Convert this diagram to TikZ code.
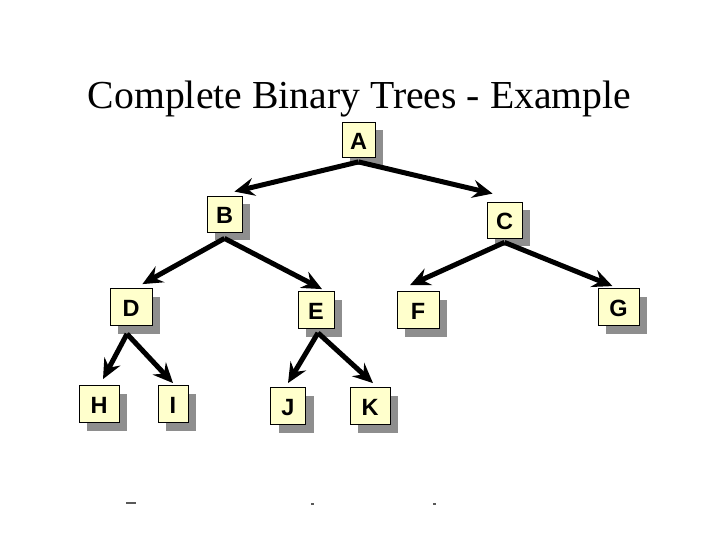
\documentclass[tikz,border=0pt]{standalone}
\usepackage{fontspec}
\setmainfont{Liberation Serif}
\newfontfamily\boxfont{Liberation Sans}
\usetikzlibrary{arrows.meta,shadows}
\definecolor{boxfill}{HTML}{FFFFCC}
\definecolor{shadowgray}{HTML}{8E8E8E}
\tikzset{
  treebox/.style={draw=black, line width=0.8pt, fill=boxfill, minimum height=37pt,
    inner sep=0pt, text height=19pt, text depth=-1.5pt,
    font=\boxfont\bfseries\fontsize{23.5}{24}\selectfont,
    general shadow={fill=shadowgray, shadow xshift=8pt, shadow yshift=-8pt}},
  treearrow/.style={line width=5pt, draw=black,
    -{Stealth[length=20pt,width=18pt,inset=7pt]}},
  speck/.style={line width=1.2pt, draw=gray!70!black}
}
\begin{document}
\begin{tikzpicture}[x=1pt,y=-1pt]
\useasboundingbox (0,0) rectangle (720,540);
\node[font=\fontsize{39.7}{40}\selectfont, anchor=base] (title) at (359.5,109) {Complete Binary Trees - Example};
\node[treebox, minimum width=33pt, minimum height=35pt] (A) at (358.5,140) {A};
\node[treebox, minimum width=35pt, minimum height=36pt] (B) at (224.5,214) {B};
\node[treebox, minimum width=35pt, minimum height=36pt] (C) at (504.5,220) {C};
\node[treebox, minimum width=42pt] (D) at (131,307) {D};
\node[treebox, minimum width=36pt] (E) at (316,310) {E};
\node[treebox, minimum width=42pt] (F) at (418,310) {F};
\node[treebox, minimum width=41pt] (G) at (618.5,307) {G};
\node[treebox, minimum width=40pt] (H) at (99,404) {H};
\node[treebox, minimum width=30pt] (I) at (173,404) {I};
\node[treebox, minimum width=35pt] (J) at (288,406) {J};
\node[treebox, minimum width=40pt] (K) at (370,406) {K};
% connectors
\draw[treearrow] ([yshift=-4pt]A.south) -- ([xshift=-8pt,yshift=4pt]B.north east);
\draw[treearrow] ([yshift=-4pt]A.south) -- ([xshift=6pt,yshift=8pt]C.north west);
\draw[treearrow] ([yshift=-6pt]B.south) -- ([xshift=-10pt,yshift=4pt]D.north east);
\draw[treearrow] ([yshift=-6pt]B.south) -- ([xshift=6pt,yshift=2pt]E.north);
\draw[treearrow] ([yshift=-4pt]C.south) -- ([xshift=-8pt,yshift=6pt]F.north);
\draw[treearrow] ([yshift=-4pt]C.south) -- ([xshift=-6pt,yshift=2pt]G.north);
\draw[treearrow] ([xshift=-4pt,yshift=-8pt]D.south) -- ([xshift=4pt,yshift=6pt]H.north);
\draw[treearrow] ([xshift=-4pt,yshift=-8pt]D.south) -- ([yshift=2pt]I.north);
\draw[treearrow] ([xshift=2pt,yshift=-4pt]E.south) -- ([yshift=4pt]J.north);
\draw[treearrow] ([xshift=2pt,yshift=-4pt]E.south) -- ([xshift=3pt,yshift=4pt]K.north);
% tiny specks at the bottom
\draw[speck] (126,503) -- (136,503);
\draw[speck] (311,504) -- (314,504);
\draw[speck] (433,504) -- (436,504);
\end{tikzpicture}
\end{document}
